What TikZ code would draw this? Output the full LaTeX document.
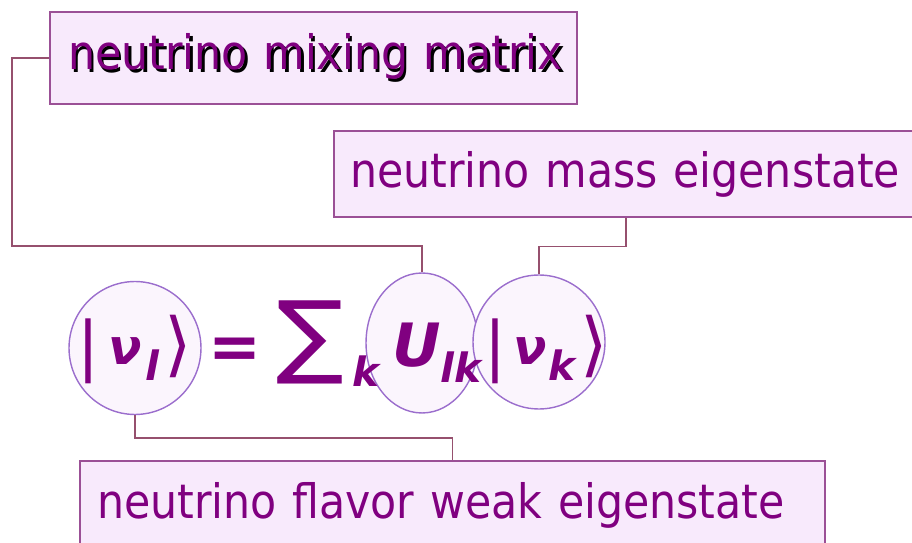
\documentclass[tikz,border=0pt]{standalone}
\usepackage{fontspec}
\usetikzlibrary{shapes.geometric, positioning}
\newfontfamily\labelfont{DejaVu Sans Condensed}
\newfontfamily\eqfont{DejaVu Sans}
\definecolor{textcolor}{RGB}{128, 0, 128}
\definecolor{boxline}{RGB}{155, 80, 150}
\definecolor{boxfill}{RGB}{248, 234, 252}
\definecolor{linkcolor}{RGB}{150, 80, 110}
\definecolor{ringline}{RGB}{155, 110, 205}
\definecolor{ringfill}{RGB}{251, 245, 253}

% pieces of the formula
\newcommand{\ketbar}{{\eqfont\fontsize{37}{37}\selectfont\lower 2pt\hbox{|}}}
\newcommand{\ketend}{{\eqfont\fontsize{40}{40}\selectfont\lower 2pt\hbox{⟩}}}
\newcommand{\nusym}{{\eqfont\bfseries\itshape\fontsize{28}{28}\selectfont ν}}
\newcommand{\nusub}[1]{\lower 9pt\hbox{\eqfont\bfseries\itshape\fontsize{23}{23}\selectfont #1}}

\tikzset{
    label box/.style={draw=boxline, fill=boxfill, line width=0.8pt, rectangle,
        align=left, text=textcolor, font=\labelfont\fontsize{27}{30}\selectfont},
    ring/.style={draw=ringline, fill=ringfill, line width=0.8pt, ellipse, inner sep=0pt},
    eqpart/.style={text=textcolor, inner sep=0pt, anchor=base west},
    link/.style={draw=linkcolor, line width=0.8pt}
}

\begin{document}
\begin{tikzpicture}[x=0.02cm, y=-0.02cm]
    \clip (0,0) rectangle (912,543);

    % ==========================================
    % --- rings round the parts of the formula ---
    % ==========================================
    \node[ring, minimum width=2.64cm, minimum height=2.66cm] (nul) at (135,348) {};
    \node[ring, minimum width=2.24cm, minimum height=2.80cm] (ulk) at (422,343) {};
    \node[ring, minimum width=2.64cm, minimum height=2.68cm] (nuk) at (539,342) {};

    % Formula |nu_l> = sum_k U_lk |nu_k>
    \node[eqpart] (lhs) at (77,365) {\ketbar\hspace{5pt}\nusym\hspace{2pt}\nusub{l}\hspace{3pt}\ketend};
    \node[eqpart] (eq) at (208,369) {\eqfont\bfseries\fontsize{36}{36}\selectfont =};
    \node[eqpart] (sum) at (276,367) {\eqfont\fontsize{52}{52}\selectfont \scalebox{1.1}[1]{∑}\hspace{5pt}\lower 2pt\hbox{\nusub{k}}};
    \node[eqpart] (mix) at (392,367) {\eqfont\bfseries\itshape\fontsize{34}{34}\selectfont U\nusub{lk}};
    \node[eqpart] (rhs) at (484,365) {\ketbar\hspace{4pt}\nusym\hspace{1pt}\nusub{k}\hspace{3pt}\ketend};

    % ==========================================
    % --- label boxes ---
    % ==========================================
    \node[label box, text width=9.82cm, inner xsep=0.36cm, minimum height=1.84cm] (mixing) at (313.5,58)
        {\mbox{\makebox[0pt][l]{\hspace{1.5pt}\raisebox{-1.5pt}{\color{black}neutrino mixing matrix}}neutrino mixing matrix}};
    \node[label box, text width=11.04cm, inner xsep=0.32cm, minimum height=1.72cm] (mass) at (626,174)
        {neutrino mass eigenstate};
    \node[label box, text width=14.22cm, inner xsep=0.34cm, minimum height=1.76cm] (flavor) at (452.5,505)
        {neutrino flavor weak eigenstate};

    % Connectors
    \draw[link] (mixing.west) -| (12,246) -| (ulk.north);
    \draw[link] (mass.south) -- ++(0,29) -| (nuk.north);
    \draw[link] (nul.south) -- ++(0,23) -| (flavor.north);

\end{tikzpicture}
\end{document}
